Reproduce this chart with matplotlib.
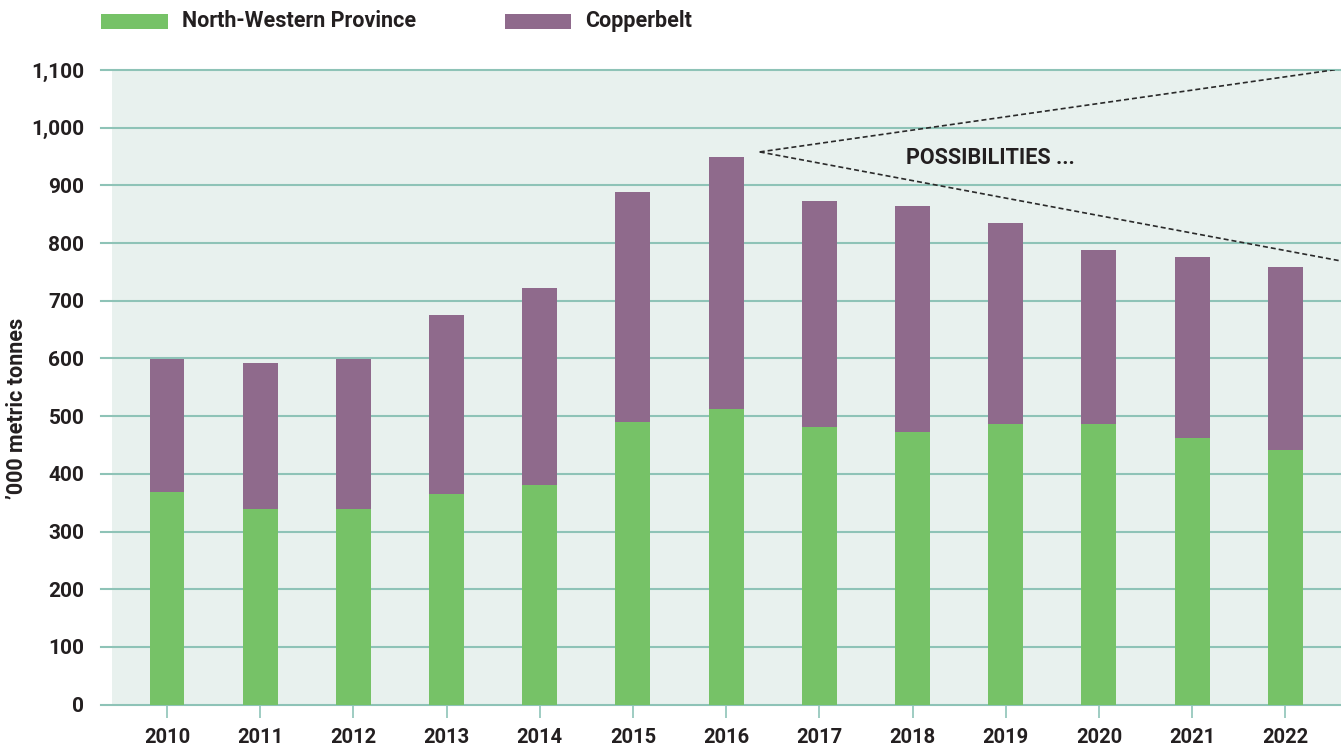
import matplotlib.pyplot as plt
from matplotlib.patches import Rectangle
import numpy as np

plt.rcParams['font.family'] = ['Roboto', 'DejaVu Sans']

# Data ('000 metric tonnes)
years = ['2010', '2011', '2012', '2013', '2014', '2015', '2016',
         '2017', '2018', '2019', '2020', '2021', '2022']
north_western = [368, 340, 339, 366, 380, 490, 512, 481, 472, 486, 486, 462, 441]
totals = [599, 592, 599, 675, 722, 889, 950, 873, 865, 835, 788, 776, 759]
copperbelt = [t - n for t, n in zip(totals, north_western)]
y_ticks = [0, 100, 200, 300, 400, 500, 600, 700, 800, 900, 1000, 1100]

# "possibilities" cone (start point and the two end values)
cone_start = (6.36, 958)
cone_high = 1102
cone_low = 769

green = '#76c267'
purple = '#8f6a8c'
bg = '#e8f1ee'
grid_col = '#8ec3b7'
text_col = '#231f20'

fig = plt.figure(figsize=(13.41, 7.49), dpi=100)
ax = fig.add_axes([101 / 1341, 44.3 / 749, 1240 / 1341, 634.7 / 749])

x = np.arange(len(years))
xmin, xmax = -0.708, 12.597
ax.set_xlim(xmin, xmax)
ax.set_ylim(0, 1100)

# light background panel
ax.add_patch(Rectangle((-0.59, 0), xmax + 0.59, 1100, facecolor=bg,
                       edgecolor='none', zorder=0))
for v in y_ticks:
    ax.axhline(v, color=grid_col, lw=1.5, zorder=1, clip_on=False)

w = 0.375
ax.bar(x, north_western, w, color=green, zorder=2)
ax.bar(x, copperbelt, w, bottom=north_western, color=purple, zorder=2)

# dashed cone
ax.plot([cone_start[0], xmax], [cone_start[1], cone_high], ls=(0, (3, 1.8)),
        color='#2a2a2a', lw=1.2, zorder=3)
ax.plot([cone_start[0], xmax], [cone_start[1], cone_low], ls=(0, (3, 1.8)),
        color='#2a2a2a', lw=1.2, zorder=3)
ax.text(8.83, 947, 'POSSIBILITIES ...', ha='center', va='center',
        fontsize=15.5, fontweight='bold', color=text_col, zorder=4)

for s in ax.spines.values():
    s.set_visible(False)

ax.set_xticks(x)
ax.set_xticklabels(years, fontsize=14.5, fontweight='bold', color=text_col)
ax.tick_params(axis='x', length=9, width=1.2, color=grid_col, pad=8)
ax.set_yticks(y_ticks)
ax.set_yticklabels([f'{v:,}' for v in y_ticks], fontsize=15,
                   fontweight='bold', color=text_col)
ax.tick_params(axis='y', length=0, pad=12)

fig.text(17 / 1341, 1 - 408 / 749, '’000 metric tonnes', rotation=90,
         ha='center', va='center', fontsize=15.5, fontweight='bold',
         color=text_col)

# legend
fig.patches.append(Rectangle((101 / 1341, 1 - 29 / 749), 67 / 1341, 15 / 749,
                             transform=fig.transFigure, facecolor=green,
                             edgecolor='none'))
fig.text(182 / 1341, 1 - 21 / 749, 'North-Western Province', ha='left',
         va='center', fontsize=15.5, fontweight='bold', color=text_col)
fig.patches.append(Rectangle((505 / 1341, 1 - 29 / 749), 66 / 1341, 15 / 749,
                             transform=fig.transFigure, facecolor=purple,
                             edgecolor='none'))
fig.text(585 / 1341, 1 - 21 / 749, 'Copperbelt', ha='left',
         va='center', fontsize=15.5, fontweight='bold', color=text_col)

fig.savefig('out.png', dpi=100)
